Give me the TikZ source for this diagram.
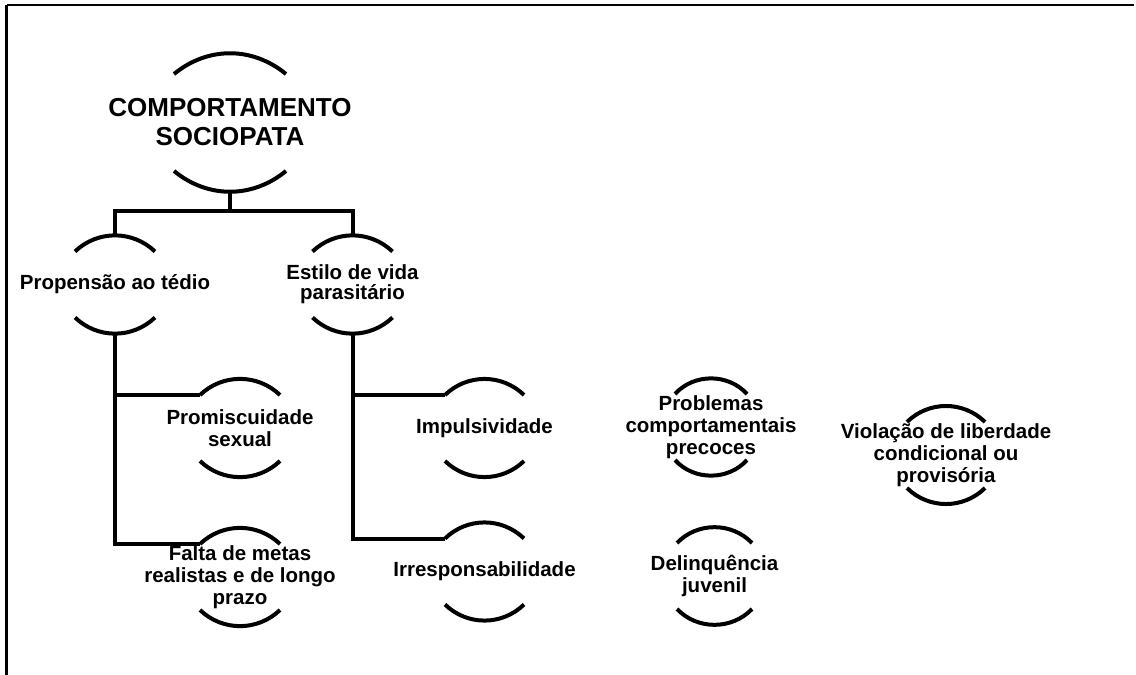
\documentclass[tikz,border=0pt]{standalone}
\usepackage{fontspec}
\setmainfont{Liberation Sans}
\tikzset{
  txt/.style={inner sep=0pt, align=center, font=\fontsize{20.5}{22}\selectfont\bfseries},
  rootxt/.style={inner sep=0pt, align=center, font=\fontsize{26}{29}\selectfont\bfseries},
  arcline/.style={line width=4pt},
  conn/.style={line width=4pt},
  frame/.style={line width=2pt}
}
\newcommand\bubarcs[4]{%
  \pgfmathsetmacro\bubang{2*atan(#4/#2)}%
  \path (#1.center) ++(-#2,-#3+#4) coordinate (#1-tl);
  \path (#1.center) ++(#2,-#3+#4) coordinate (#1-tr);
  \path (#1.center) ++(-#2,#3-#4) coordinate (#1-bl);
  \path (#1.center) ++(#2,#3-#4) coordinate (#1-br);
  \path (#1.center) ++(0,-#3) coordinate (#1-t);
  \path (#1.center) ++(0,#3) coordinate (#1-b);
  \draw[arcline] (#1-tl) to[bend left=\bubang] (#1-tr);
  \draw[arcline] (#1-bl) to[bend right=\bubang] (#1-br);
}
\begin{document}
\begin{tikzpicture}[x=1pt,y=-1pt]
\useasboundingbox (0,0) rectangle (1136,675);
% frame
\coordinate (ftl) at (6.5,5.2);
\coordinate (ftr) at (1134,5.2);
\coordinate (fbl) at (6.5,675);
\draw[line width=1.7pt] (ftl) -- (ftr);
\draw[line width=3pt] (ftl) -- (fbl);
% nodes
\node[rootxt] (root) at (230,122.5) {COMPORTAMENTO\\SOCIOPATA};
\node[txt] (prop) at (115,284.5) {Propensão ao tédio};
\node[txt, font=\fontsize{20.5}{20}\selectfont\bfseries] (est) at (352.5,284.5) {Estilo de vida\\parasitário};
\node[txt] (prom) at (240,428) {Promiscuidade\\sexual};
\node[txt] (falt) at (240,577) {Falta de metas\\realistas e de longo\\prazo};
\node[txt] (imp) at (484.5,428) {Impulsividade};
\node[txt] (irr) at (484.5,571.5) {Irresponsabilidade};
\node[txt] (prob) at (711,427) {Problemas\\comportamentais\\precoces};
\node[txt] (del) at (714.5,576) {Delinquência\\juvenil};
\node[txt] (vio) at (946,455) {Violação de liberdade\\condicional ou\\provisória};
% arcs
\bubarcs{root}{56}{68.5}{20}
\bubarcs{prop}{40}{49}{16}
\bubarcs{est}{40}{49}{16}
\bubarcs{prom}{40}{49}{16}
\bubarcs{falt}{40}{49}{16}
\bubarcs{imp}{39.5}{49}{16}
\bubarcs{irr}{39.5}{49}{16}
\bubarcs{prob}{36}{49}{16}
\bubarcs{del}{37.5}{49}{16}
\bubarcs{vio}{39}{49}{16}
% connectors
\coordinate (bar) at (0,211);
\draw[conn] (root-b) -- (root-b |- bar);
\draw[conn] (prop-t) -- (prop-t |- bar) -- (est-t |- bar) -- (est-t);
\draw[conn] (prop-b) |- (prom-tl);
\draw[conn] (prop-b) |- (falt-tl);
\draw[conn] (est-b) |- (imp-tl);
\draw[conn] (est-b) |- (irr-tl);
\end{tikzpicture}
\end{document}
